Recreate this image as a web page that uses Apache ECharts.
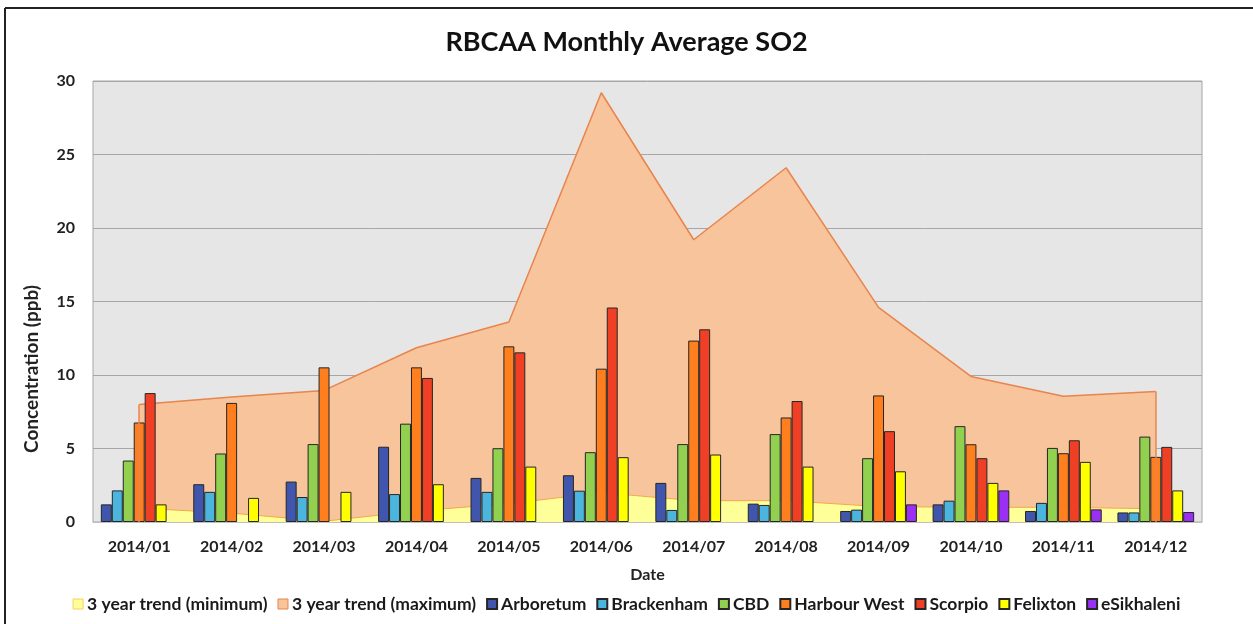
<!DOCTYPE html>
<html>
<head>
<meta charset="utf-8">
<script src="https://cdn.jsdelivr.net/npm/echarts@6/dist/echarts.min.js"></script>
<style>
  html, body { margin: 0; padding: 0; background: #fff; }
  #chart { width: 1253px; height: 624px; }
</style>
</head>
<body>
<div id="chart"></div>
<script>
const months = ['2014/01', '2014/02', '2014/03', '2014/04', '2014/05', '2014/06',
                '2014/07', '2014/08', '2014/09', '2014/10', '2014/11', '2014/12'];

// 3 year trend envelopes
const trendMin = [0.95, 0.6, 0.05, 0.75, 1.25, 2.0, 1.45, 1.45, 1.05, 1.0, 1.0, 0.9];
const trendMax = [8.0, 8.5, 8.95, 11.85, 13.6, 29.2, 19.2, 24.1, 14.6, 9.9, 8.55, 8.88];

// monthly averages per station (null = no data)
const arboretum  = [1.2, 2.57, 2.75, 5.12, 3.0, 3.18, 2.66, 1.25, 0.75, 1.2, 0.75, 0.65];
const brackenham = [2.15, 2.05, 1.7, 1.9, 2.05, 2.13, 0.82, 1.16, 0.84, 1.45, 1.3, 0.65];
const cbd        = [4.18, 4.66, 5.3, 6.69, 5.02, 4.75, 5.3, 5.98, 4.34, 6.52, 5.04, 5.81];
const harbourW   = [6.77, 8.1, 10.52, 10.52, 11.95, 10.43, 12.34, 7.11, 8.61, 5.29, 4.68, 4.43];
const scorpio    = [8.77, null, null, 9.8, 11.54, 14.59, 13.11, 8.23, 6.18, 4.34, 5.56, 5.11];
const felixton   = [1.2, 1.64, 2.05, 2.57, 3.77, 4.41, 4.59, 3.77, 3.45, 2.66, 4.09, 2.15];
const esikhaleni = [null, null, null, null, null, null, null, null, 1.2, 2.15, 0.86, 0.68];

const font = 'Lato, "Open Sans", sans-serif';
const chart = echarts.init(document.getElementById('chart'));

const barSeries = (name, data, color) => ({
  name, type: 'bar', data, z: 3,
  barGap: 0, barCategoryGap: '17%',
  itemStyle: { color, borderColor: '#262626', borderWidth: 1 }
});

chart.setOption({
  animation: false,
  backgroundColor: '#fff',
  title: {
    text: 'RBCAA Monthly Average SO2',
    left: 'center', top: 24,
    textStyle: { fontFamily: font, fontSize: 27, fontWeight: 'bold', color: '#111' }
  },
  grid: {
    left: 93, right: 51, top: 81, bottom: 102,
    show: true, backgroundColor: '#E6E6E6', borderColor: '#A6A6A6', borderWidth: 1
  },
  legend: {
    top: 590, left: 'center',
    icon: 'rect', itemWidth: 10, itemHeight: 10, itemGap: 10,
    textStyle: { fontFamily: font, fontSize: 17.5, fontWeight: 'bold', color: '#1a1a1a', padding: [0, 0, 0, -1] },
    data: [
      { name: '3 year trend (minimum)', itemStyle: { color: '#FFFF99', borderColor: '#F5D060', borderWidth: 1 } },
      { name: '3 year trend (maximum)', itemStyle: { color: '#F8C49C', borderColor: '#E8844C', borderWidth: 1 } },
      'Arboretum', 'Brackenham', 'CBD', 'Harbour West', 'Scorpio', 'Felixton', 'eSikhaleni'
    ]
  },
  xAxis: {
    type: 'category', data: months, boundaryGap: true,
    name: 'Date', nameLocation: 'middle', nameGap: 45,
    nameTextStyle: { fontFamily: font, fontSize: 16, fontWeight: 'bold', color: '#222' },
    axisLine: { lineStyle: { color: '#BFBFBF', width: 1 } },
    axisTick: { show: false },
    axisLabel: { fontFamily: font, fontSize: 16, fontWeight: 'bold', color: '#222', margin: 17 }
  },
  yAxis: {
    type: 'value', min: 0, max: 30, interval: 5,
    axisLine: { show: false }, axisTick: { show: false },
    axisLabel: { fontFamily: font, fontSize: 16, fontWeight: 'bold', color: '#222', margin: 18 },
    splitLine: { lineStyle: { color: '#A6A6A6', width: 1 } }
  },
  graphic: [
    { type: 'line', shape: { x1: 5, y1: 8, x2: 1253, y2: 8 }, style: { stroke: '#222', lineWidth: 2 } },
    { type: 'line', shape: { x1: 5, y1: 8, x2: 5, y2: 624 }, style: { stroke: '#222', lineWidth: 2 } },
    {
      type: 'text', x: 32, y: 369, rotation: Math.PI / 2,
      style: {
        text: 'Concentration (ppb)', align: 'center', verticalAlign: 'middle',
        font: 'bold 19px ' + font, fill: '#222'
      }
    }
  ],
  series: [
    {
      name: '3 year trend (maximum)', type: 'line', data: trendMax, z: 1,
      symbol: 'none',
      lineStyle: { color: '#E8844C', width: 1.5 },
      itemStyle: { color: '#F8C49C' },
      areaStyle: { color: '#F8C49C', opacity: 1 },
      markLine: {
        silent: true, symbol: 'none', label: { show: false },
        lineStyle: { color: '#E8844C', width: 1.5, type: 'solid' },
        data: [
          [{ coord: [months[0], 0] }, { coord: [months[0], trendMax[0]] }],
          [{ coord: [months[11], 0] }, { coord: [months[11], trendMax[11]] }]
        ]
      }
    },
    {
      name: '3 year trend (minimum)', type: 'line', data: trendMin, z: 2,
      symbol: 'none',
      lineStyle: { color: '#F2A84C', width: 1 },
      itemStyle: { color: '#FFFF99' },
      areaStyle: { color: '#FFFF99', opacity: 1 }
    },
    barSeries('Arboretum', arboretum, '#4055AC'),
    barSeries('Brackenham', brackenham, '#4CB5DD'),
    barSeries('CBD', cbd, '#92D050'),
    barSeries('Harbour West', harbourW, '#FF7F1F'),
    barSeries('Scorpio', scorpio, '#EF4026'),
    barSeries('Felixton', felixton, '#FFFF00'),
    barSeries('eSikhaleni', esikhaleni, '#9B30F5')
  ]
});
</script>
</body>
</html>
